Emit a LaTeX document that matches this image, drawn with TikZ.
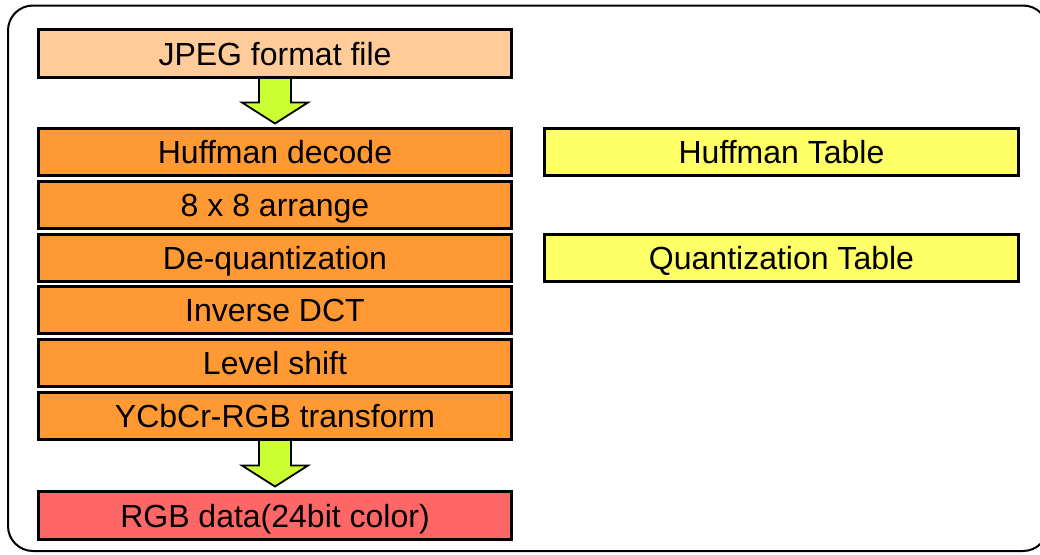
\documentclass[tikz,border=0pt]{standalone}
\usepackage{fontspec}
\setmainfont{Liberation Sans}
\usetikzlibrary{calc}
\definecolor{jpegc}{HTML}{FFCC99}
\definecolor{procc}{HTML}{FF9933}
\definecolor{tablec}{HTML}{FFFF66}
\definecolor{rgbc}{HTML}{FF6666}
\definecolor{arrowc}{HTML}{CCFF33}
\begin{document}
\begin{tikzpicture}[x=1pt,y=-1pt,
  box/.style={draw=black, line width=3pt, minimum width=473pt, minimum height=47pt,
    inner sep=0pt, text height=23pt, text depth=0pt,
    font=\fontsize{32}{38}\selectfont},
  stage/.style={box, fill=procc},
  tablebox/.style={box, fill=tablec, minimum width=474pt},
  blockarrow/.style={draw=black, line width=1.8pt, fill=arrowc, line join=miter}
]
\useasboundingbox (0,0) rectangle (1040,554);
\draw[line width=2pt, rounded corners=25pt] (8,5.5) rectangle (1048,551);

\node[box, fill=jpegc, minimum height=48pt] (jpeg) at (275,53.5) {JPEG format file};
\node[stage] (huff) at (275,152) {Huffman decode};
\node[stage] (arr)  at (275,204.8) {8 x 8 arrange};
\node[stage] (deq)  at (275,257.6) {De-quantization};
\node[stage] (idct) at (275,310.4) {Inverse DCT};
\node[stage] (lvl)  at (275,363.2) {Level shift};
\node[stage] (ycc)  at (275,416) {YCbCr-RGB transform};
\node[box, fill=rgbc, minimum height=48pt] (rgb) at (275,515.5) {RGB data(24bit color)};

\node[tablebox] (htab) at (781.5,152) {Huffman Table};
\node[tablebox] (qtab) at (781.5,257.6) {Quantization Table};

\draw[blockarrow]
  ($(jpeg.south)+(-16,0)$) -- ($(huff.north)+(-16,-24.5)$) -- ($(huff.north)+(-33,-24.5)$)
  -- ($(huff.north)+(0,-3.5)$) -- ($(huff.north)+(33,-24.5)$) -- ($(huff.north)+(16,-24.5)$)
  -- ($(jpeg.south)+(16,0)$);
\draw[blockarrow]
  ($(ycc.south)+(-16,0)$) -- ($(rgb.north)+(-16,-24.5)$) -- ($(rgb.north)+(-33,-24.5)$)
  -- ($(rgb.north)+(0,-3.5)$) -- ($(rgb.north)+(33,-24.5)$) -- ($(rgb.north)+(16,-24.5)$)
  -- ($(ycc.south)+(16,0)$);
\end{tikzpicture}
\end{document}
